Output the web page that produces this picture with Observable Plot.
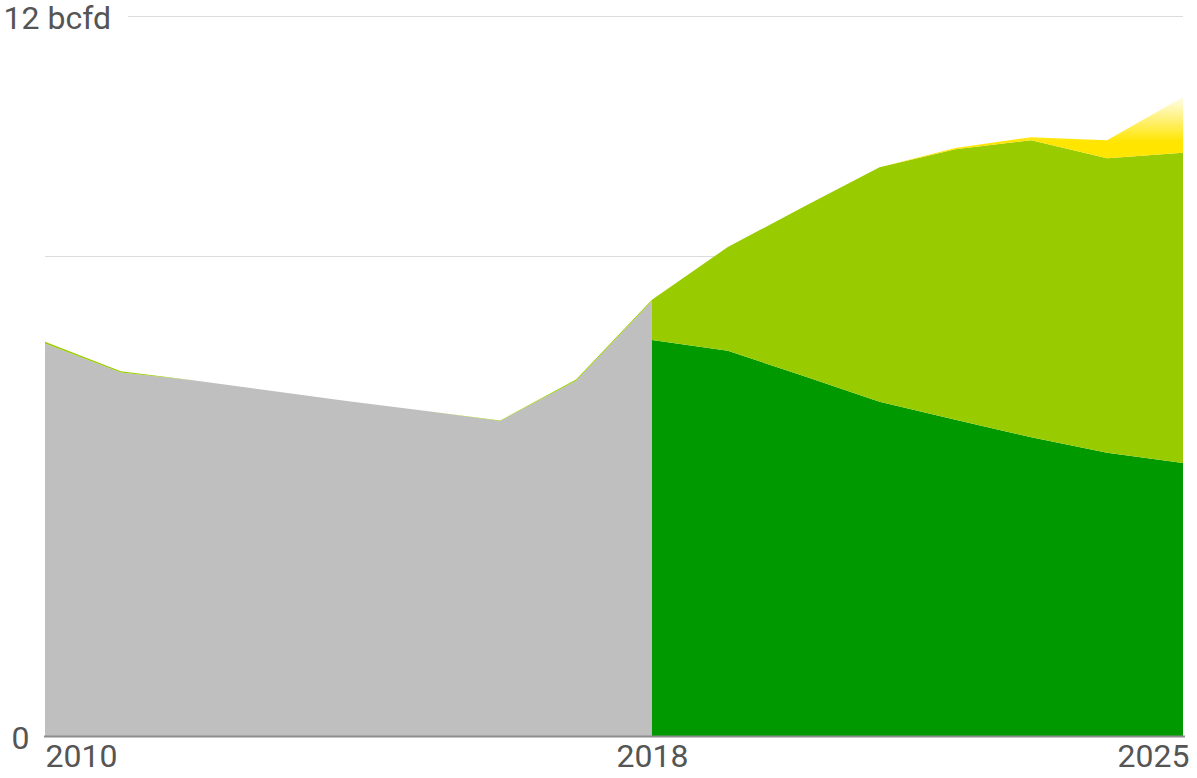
<!DOCTYPE html>
<html><head><meta charset="utf-8">
<script src="https://cdn.jsdelivr.net/npm/d3@7"></script>
<script src="https://cdn.jsdelivr.net/npm/@observablehq/plot@0.6"></script>
<style>body{margin:0;background:#fff;}</style>
</head><body><div id="chart"></div>
<script>
// Historical output (2010-2018)
const histYears = [2010, 2011, 2012, 2013, 2014, 2015, 2016, 2017, 2018];
const histTotal = [6.54, 6.06, 5.92, 5.75, 5.58, 5.42, 5.25, 5.92, 7.25];
const histSliver = [0.03, 0.02, 0, 0, 0, 0, 0.01, 0.02, 0.02];
// Forecast (2018-2025)
const fcYears = [2018, 2019, 2020, 2021, 2022, 2023, 2024, 2025];
const fcDark = [6.60, 6.42, 6.00, 5.57, 5.27, 4.98, 4.72, 4.55];
const fcLight = [0.67, 1.73, 2.82, 3.91, 4.51, 4.95, 4.91, 5.17];
const fcNew = [0, 0, 0, 0, 0.02, 0.05, 0.30, 0.93];

const seriesNames = ["Historical", "Historical top", "Dark", "Light", "New"];
const seriesColors = ["#bfbfbf", "#99cc00", "#009900", "#99cc00", "url(#newGrad)"];

const gridValues = [4, 8];
const topTick = 12;
const yLabels = [{v: 12, t: "12 bcfd"}, {v: 0, t: "0"}];
const xTicks = [2010, 2018, 2025];
// vertical span of the fading gradient (in bcfd)
const fadeFrom = 10.7, fadeTo = 9.9;

const hist = histYears.flatMap((year, i) => [
  {year, series: "Historical", value: histTotal[i]},
  {year, series: "Historical top", value: histSliver[i]}
]);
const fc = fcYears.flatMap((year, i) => [
  {year, series: "Dark", value: fcDark[i]},
  {year, series: "Light", value: fcLight[i]},
  {year, series: "New", value: fcNew[i]}
]);

const txt = {fill: "#555", fontSize: 32, fontFamily: "Roboto"};

const chart = Plot.plot({
  width: 1197, height: 778,
  marginLeft: 45, marginRight: 14, marginTop: 16, marginBottom: 42,
  x: {domain: [2010, 2025], axis: null},
  y: {domain: [0, 12], axis: null},
  color: {domain: seriesNames, range: seriesColors},
  style: {fontFamily: "Roboto", background: "#fff", overflow: "visible"},
  marks: [
    Plot.ruleY(gridValues, {stroke: "#dcdcdc", strokeWidth: 1}),
    Plot.ruleY([topTick], {stroke: "#dcdcdc", strokeWidth: 1, insetLeft: 83}),
    Plot.areaY(hist, {x: "year", y: "value", z: "series", fill: "series"}),
    Plot.areaY(fc, {x: "year", y: "value", z: "series", fill: "series"}),
    Plot.ruleY([0], {stroke: "#8c8c8c", strokeWidth: 2, insetLeft: -1, insetRight: -2}),
    Plot.text(yLabels.filter(d => d.v === 12), {y: "v", text: "t", frameAnchor: "left", textAnchor: "start", dx: -42, dy: 2, ...txt}),
    Plot.text(yLabels.filter(d => d.v === 0), {y: "v", text: "t", frameAnchor: "left", textAnchor: "start", dx: -34, dy: 2, ...txt}),
    Plot.text([xTicks[0]], {x: d => d, text: d => String(d), frameAnchor: "bottom", textAnchor: "start", dy: 30, ...txt}),
    Plot.text([xTicks[1]], {x: d => d, text: d => String(d), frameAnchor: "bottom", textAnchor: "middle", dy: 30, ...txt}),
    Plot.text([xTicks[2]], {x: d => d, text: d => String(d), frameAnchor: "bottom", textAnchor: "end", dx: 6, dy: 30, ...txt})
  ]
});

const ys = chart.scale("y");
const defs = d3.create("svg:defs");
const grad = defs.append("linearGradient").attr("id", "newGrad")
  .attr("gradientUnits", "userSpaceOnUse")
  .attr("x1", 0).attr("x2", 0)
  .attr("y1", ys.apply(fadeFrom)).attr("y2", ys.apply(fadeTo));
grad.append("stop").attr("offset", 0).attr("stop-color", "#ffe500").attr("stop-opacity", 0);
grad.append("stop").attr("offset", 0.5).attr("stop-color", "#ffe500").attr("stop-opacity", 0.5);
grad.append("stop").attr("offset", 1).attr("stop-color", "#ffe500").attr("stop-opacity", 1);
chart.insertBefore(defs.node(), chart.firstChild);

document.getElementById("chart").appendChild(chart);
</script>
</body></html>
